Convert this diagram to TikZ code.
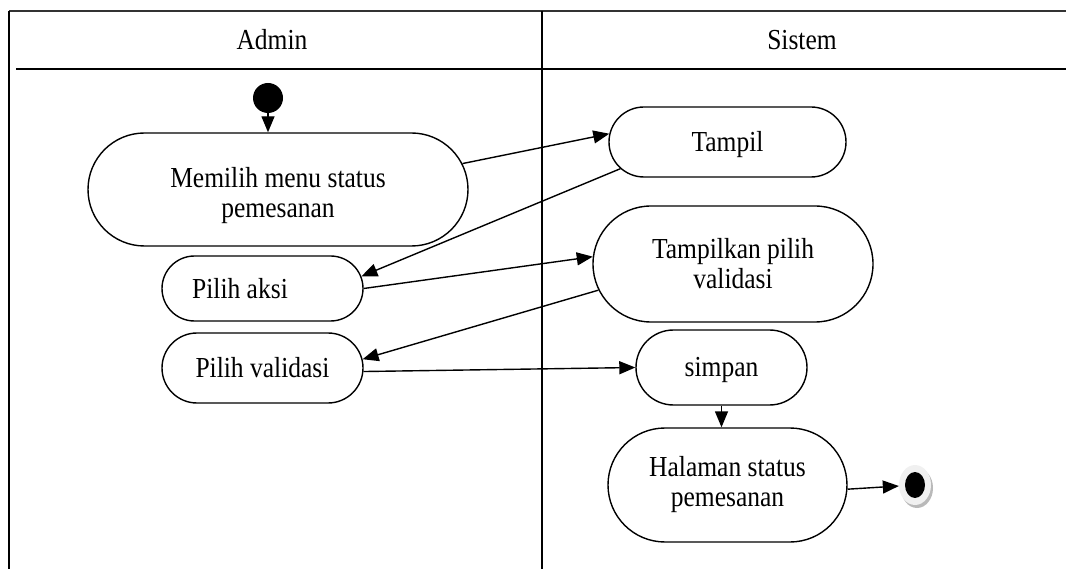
\documentclass[tikz,border=0pt]{standalone}
\usepackage{fontspec}
\setmainfont{Liberation Serif}[FakeStretch=0.88]
\usetikzlibrary{shapes.misc,shapes.geometric,arrows.meta,shadows}
\begin{document}
\begin{tikzpicture}[x=1pt,y=-1pt,
  lane/.style={line width=1.5pt},
  txt/.style={font=\fontsize{29}{30}\selectfont},
  act/.style={rounded rectangle, draw, line width=1.4pt, inner sep=0pt, align=center, txt},
  flow/.style={line width=1.4pt, -{Triangle[length=16pt,width=13pt]}},
]
\useasboundingbox (0,0) rectangle (1066,569);
% swimlanes
\draw[lane, black!80] (9,11) -- (1066,11);
\draw[line width=2.5pt] (16,69) -- (1066,69);
\draw[lane] (9,11) -- (9,569);
\draw[lane] (542,11) -- (542,569);
\node[txt] (hadmin) at (272,40) {Admin};
\node[txt] (hsistem) at (802,40) {Sistem};
% nodes
\node[circle, fill=black, minimum size=30pt, inner sep=0pt] (start) at (268,98) {};
\node[act, minimum width=380pt, minimum height=113pt] (memilih) at (278,189.5) {\rule{0pt}{33pt}Memilih menu status\\pemesanan};
\node[act, minimum width=237pt, minimum height=70pt] (tampil) at (727.5,142) {\rule{0pt}{26pt}Tampil};
\node[act, minimum width=201pt, minimum height=65pt] (aksi) at (262.5,288.5) {Pilih aksi\hspace*{45pt}};
\node[act, minimum width=280pt, minimum height=116pt] (tampilkan) at (733,264) {Tampilkan pilih\\validasi};
\node[act, minimum width=201pt, minimum height=70pt] (validasi) at (262.5,368) {Pilih validasi};
\node[act, minimum width=171pt, minimum height=75pt] (simpan) at (721.5,367.5) {\rule{0pt}{25pt}simpan};
\node[act, minimum width=239pt, minimum height=114pt] (halaman) at (727.5,485) {Halaman status\\pemesanan};
\node[ellipse, fill=gray!12, minimum width=32pt, minimum height=40pt, inner sep=0pt,
  drop shadow={shadow xshift=2pt, shadow yshift=-3pt, fill=gray!55, opacity=1}] (fin) at (915,485) {};
\node[ellipse, fill=black, minimum width=20pt, minimum height=26pt, inner sep=0pt] (finin) at (fin.center) {};
% flows
\draw[flow] (start.south) -- (start.south |- memilih.north);
\draw[flow] (memilih.8) -- (tampil.176);
\draw[flow] (tampil.194) -- (aksi.7.5);
\draw[flow] (aksi.east) -- (tampilkan.177.5);
\draw[flow] (tampilkan.191.8) -- (validasi.5.7);
\draw[flow] (validasi.-2.7) -- (simpan.west);
\draw[flow] (simpan.south) -- (simpan.south |- halaman.north);
\draw[flow] (halaman.-2) -- (fin);
\end{tikzpicture}
\end{document}
